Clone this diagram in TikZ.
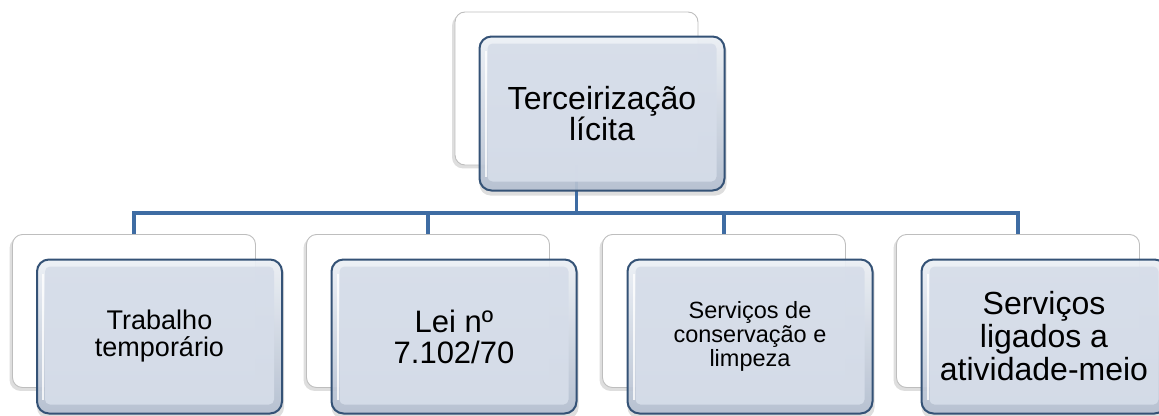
\documentclass[tikz,border=0pt]{standalone}
\usepackage{fontspec}
\setmainfont{Liberation Sans}
\usetikzlibrary{backgrounds}
\definecolor{connc}{RGB}{62,108,163}
\definecolor{fbord}{RGB}{52,82,118}
\definecolor{ffill}{RGB}{214,221,233}
\definecolor{ftop}{RGB}{236,240,246}
\definecolor{fbot}{RGB}{180,191,208}
\definecolor{bbord}{RGB}{190,190,190}
\begin{document}
\begin{tikzpicture}[x=1pt,y=-1pt,
  backbox/.style={draw=bbord, line width=0.9pt, fill=white, rounded corners=10pt,
    minimum width=243pt, minimum height=153pt, inner sep=0pt},
  frontbox/.style={draw=fbord, line width=2pt, rounded corners=12pt,
    minimum width=245pt, minimum height=154pt, inner sep=0pt,
    top color=ftop, bottom color=fbot, fill opacity=0.93, text opacity=1,
    align=center, text=black,
    path picture={\fill[ffill, rounded corners=5pt]
      ([shift={(8pt,9pt)}]path picture bounding box.south west) rectangle
      ([shift={(-8pt,-7pt)}]path picture bounding box.north east);
      \draw[white, line width=2pt, opacity=0.8]
      ([shift={(6pt,14pt)}]path picture bounding box.south west) --
      ([shift={(6pt,-14pt)}]path picture bounding box.north west);}},
  connline/.style={draw=connc, line width=3.8pt},
  shade1/.style={fill=black, opacity=0.13, rounded corners=11pt}]
\useasboundingbox (0,0) rectangle (1159,415);

% back boxes
\node[backbox] (tb) at (576.5,88.5) {};
\node[backbox] (b1) at (134,311) {};
\node[backbox] (b2) at (428,311) {};
\node[backbox] (b3) at (724,311) {};
\node[backbox] (b4) at (1018,311) {};

% connectors
\coordinate (bus) at (0,213);
\draw[connline] (tb.south) -- (tb.south |- bus);
\foreach \i in {1,...,4}{
  \draw[connline] (tb.south |- bus) -| (b\i.north);
}

% front boxes
\node[frontbox, font=\fontsize{32}{30.5}\selectfont] (tf) at (602,113.5) {Terceirização\\lícita};
\node[frontbox, font=\fontsize{27}{27}\selectfont] (f1) at (159.5,336.5) {Trabalho\\temporário};
\node[frontbox, font=\fontsize{31}{31}\selectfont] (f2) at (454,336.5) {Lei nº\\7.102/70};
\node[frontbox, font=\fontsize{23.5}{24}\selectfont] (f3) at (750,336.5) {Serviços de\\conservação e\\limpeza};
\node[frontbox, font=\fontsize{32}{33}\selectfont] (f4) at (1044,336.5) {Serviços\\ligados a\\atividade-meio};

% soft shadows
\begin{scope}[on background layer]
  \foreach \n in {tb,b1,b2,b3,b4}{
    \fill[shade1] ([shift={(-2.5pt,-3pt)}]\n.south west) rectangle ([shift={(-2.5pt,-3pt)}]\n.north east);
  }
  \foreach \n in {tf,f1,f2,f3,f4}{
    \fill[shade1] ([shift={(1pt,-4pt)}]\n.south west) rectangle ([shift={(1pt,-4pt)}]\n.north east);
  }
\end{scope}
\end{tikzpicture}
\end{document}
